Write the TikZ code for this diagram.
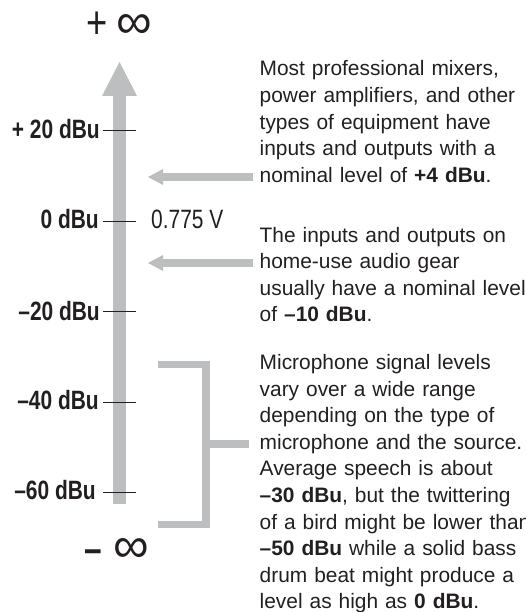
\documentclass[tikz,border=0pt]{standalone}
\usepackage{fontspec}
\setmainfont{Liberation Sans}
\newfontfamily\condfont[FakeStretch=0.79]{Liberation Sans}
\definecolor{barGray}{HTML}{BCBEC0}
\definecolor{inkGray}{HTML}{231F20}
\begin{document}
\begin{tikzpicture}[x=1pt,y=-1pt,
  lvl/.style={anchor=base east, inner sep=0pt, text=inkGray, font=\condfont\bfseries\fontsize{26.5}{30}\selectfont},
  body/.style={anchor=base west, inner sep=0pt, text width=300pt, align=left, text=inkGray,
    font=\fontsize{20.9}{26.6}\selectfont},
  tickline/.style={draw=inkGray, line width=0.9pt},
  barfill/.style={fill=barGray},
  bracketline/.style={draw=barGray, line width=7.5pt, line join=miter, line cap=butt}]
\useasboundingbox (0,0) rectangle (526,612);
% main axis arrow
\fill[barfill] (113,95) rectangle (126,504);
\fill[barfill] (102,96) -- (137,96) -- (119.5,62) -- cycle;
% ticks
\foreach \yy in {130,221,311,402,492}{\draw[tickline] (103,\yy) -- (136,\yy);}
% axis labels
\node[lvl] (p20) at (100,139) {+ 20 dBu};
\node[lvl] (z0)  at (99,229) {0 dBu};
\node[lvl] (m20) at (100,320) {–20 dBu};
\node[lvl] (m40) at (99,409) {–40 dBu};
\node[lvl] (m60) at (96,499) {–60 dBu};
\node[anchor=base west, inner sep=0pt, text=inkGray, font=\condfont\fontsize{26.5}{30}\selectfont] (volt) at (151,229) {0.775 V};
% infinities
\node[inner sep=0pt, text=inkGray] (pinf) at (119,25) {{\condfont\fontsize{46}{46}\selectfont +}\hspace{9pt}{\fontsize{50}{50}\selectfont ∞}};
\node[inner sep=0pt, text=inkGray] (minf) at (117,550) {{\condfont\bfseries\fontsize{40}{40}\selectfont –}\hspace{11pt}{\fontsize{50}{50}\selectfont ∞}};
% text blocks
\node[body] (t1) at (259.5,76) {Most professional mixers,\\power amplifiers, and other\\types of equipment have\\inputs and outputs with a\\nominal level of \textbf{+4 dBu}.};
\node[body] (t2) at (259.5,242) {The inputs and outputs on\\home-use audio gear\\usually have a nominal level\\of \textbf{–10 dBu}.};
\node[body] (t3) at (259.5,369.5) {Microphone signal levels\\vary over a wide range\\depending on the type of\\microphone and the source.\\Average speech is about\\\textbf{–30 dBu}, but the twittering\\of a bird might be lower than\\\textbf{–50 dBu} while a solid bass\\drum beat might produce a\\level as high as \textbf{0 dBu}.};
% pointer arrows
\coordinate (a1s) at (253,177);
\coordinate (a2s) at (253,263);
\fill[barfill] (a1s) ++(0,-4) rectangle (162,181);
\fill[barfill] (163,169) -- (163,185) -- (148,177) -- cycle;
\fill[barfill] (a2s) ++(0,-4) rectangle (162,267);
\fill[barfill] (163,255) -- (163,271) -- (148,263) -- cycle;
% bracket
\coordinate (bt) at (158,364.5);
\coordinate (bb) at (158,524.5);
\draw[bracketline] (bt) -- (206,364.5) -- (206,524.5) -- (bb);
\draw[draw=barGray, line width=8pt] (206,444) -- (249,444);
\end{tikzpicture}
\end{document}
